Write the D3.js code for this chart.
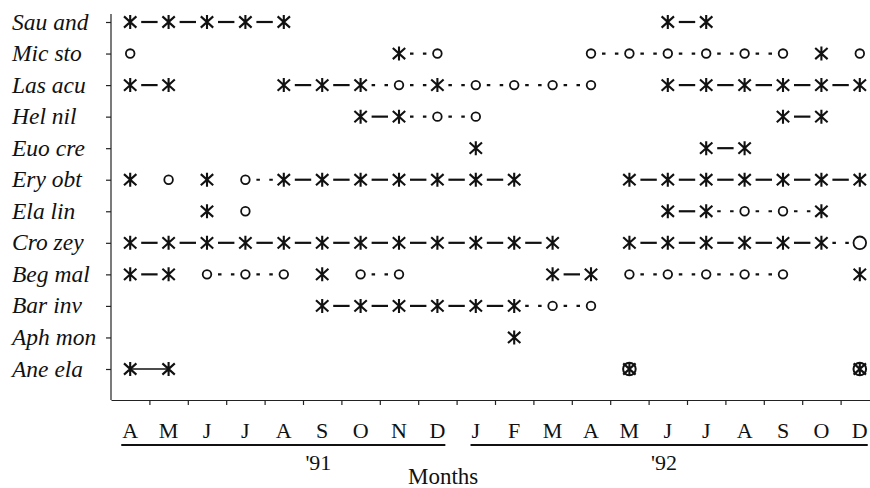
<!DOCTYPE html>
<html>
<head>
<meta charset="utf-8">
<script src="https://cdn.jsdelivr.net/npm/d3@7"></script>
<style>
body { margin: 0; background: #fff; }
text { font-family: "Liberation Serif", "Times New Roman", serif; fill: #111; }
</style>
</head>
<body>
<div class="chartfield"></div>
<script>
var width = 870;
var height = 488;

// month ticks (Nov '92 was not sampled)
var monthLabels = ["A","M","J","J","A","S","O","N","D","J","F","M","A","M","J","J","A","S","O","D"];
var yearLabels = ["'91", "'92"];
var yearSpans = [[0, 8], [9, 19]];

var species = ["Sau and","Mic sto","Las acu","Hel nil","Euo cre","Ery obt","Ela lin","Cro zey","Beg mal","Bar inv","Aph mon","Ane ela"];

// runs of observations per species: [month index, mark]
// x = flowering (asterisk), o = fruiting (circle), O = big circle, b = both
var runs = {
	"Sau and": [[[0,"x"],[1,"x"],[2,"x"],[3,"x"],[4,"x"]], [[14,"x"],[15,"x"]]],
	"Mic sto": [[[0,"o"]], [[7,"x"],[8,"o"]], [[12,"o"],[13,"o"],[14,"o"],[15,"o"],[16,"o"],[17,"o"]], [[18,"x"]], [[19,"o"]]],
	"Las acu": [[[0,"x"],[1,"x"]], [[4,"x"],[5,"x"],[6,"x"],[7,"o"],[8,"x"],[9,"o"],[10,"o"],[11,"o"],[12,"o"]], [[14,"x"],[15,"x"],[16,"x"],[17,"x"],[18,"x"],[19,"x"]]],
	"Hel nil": [[[6,"x"],[7,"x"],[8,"o"],[9,"o"]], [[17,"x"],[18,"x"]]],
	"Euo cre": [[[9,"x"]], [[15,"x"],[16,"x"]]],
	"Ery obt": [[[0,"x"]], [[1,"o"]], [[2,"x"]], [[3,"o"],[4,"x"],[5,"x"],[6,"x"],[7,"x"],[8,"x"],[9,"x"],[10,"x"]], [[13,"x"],[14,"x"],[15,"x"],[16,"x"],[17,"x"],[18,"x"],[19,"x"]]],
	"Ela lin": [[[2,"x"]], [[3,"o"]], [[14,"x"],[15,"x"],[16,"o"],[17,"o"],[18,"x"]]],
	"Cro zey": [[[0,"x"],[1,"x"],[2,"x"],[3,"x"],[4,"x"],[5,"x"],[6,"x"],[7,"x"],[8,"x"],[9,"x"],[10,"x"],[11,"x"]], [[13,"x"],[14,"x"],[15,"x"],[16,"x"],[17,"x"],[18,"x"],[19,"O"]]],
	"Beg mal": [[[0,"x"],[1,"x"]], [[2,"o"],[3,"o"],[4,"o"]], [[5,"x"]], [[6,"o"],[7,"o"]], [[11,"x"],[12,"x"]], [[13,"o"],[14,"o"],[15,"o"],[16,"o"],[17,"o"]], [[19,"x"]]],
	"Bar inv": [[[5,"x"],[6,"x"],[7,"x"],[8,"x"],[9,"x"],[10,"x"],[11,"o"],[12,"o"]]],
	"Aph mon": [[[10,"x"]]],
	"Ane ela": [[[0,"x"],[1,"x"]], [[13,"b"]], [[19,"b"]]]
};
var joinedRows = ["Ane ela"];

var svg, x, y;
var starPath = "M0,-7V7M-6.2,-5.6L6.2,5.6M-6.2,5.6L6.2,-5.6";

function svginit() {
	svg = d3.select(".chartfield")
	.append("svg")
	.attr("width", width)
	.attr("height", height);

	x = d3.scaleLinear().domain([-0.5, 19.5]).range([111, 879]);
	y = d3.scalePoint().domain(species).range([22, 369]);
}

function drawAxes() {
	// y axis, ticks only
	svg.append("g")
	.attr("transform", "translate(" + x(-0.5) + ",0)")
	.call(d3.axisLeft(y).tickSize(5).tickFormat(""))
	.call(function(g) {
		g.select(".domain").remove();
	})
	.selectAll("line").attr("stroke", "#222").attr("stroke-width", 1.2);

	svg.append("line")
	.attr("x1", x(-0.5)).attr("x2", x(-0.5))
	.attr("y1", 14).attr("y2", 400)
	.attr("stroke", "#222").attr("stroke-width", 1.2);

	svg.selectAll("text.sp")
	.data(species)
	.enter().append("text")
	.attr("class", "sp")
	.attr("x", 12)
	.attr("y", function(d) { return y(d); })
	.attr("dy", "0.32em")
	.style("font-size", "23.5px")
	.style("font-style", "italic")
	.text(function(d) { return d; });

	// x axis, ticks between months
	var xa = svg.append("g")
	.attr("transform", "translate(0,400)")
	.call(d3.axisBottom(x).tickValues(d3.range(0.5, 19, 1)).tickSize(5).tickSizeOuter(0).tickFormat(""));
	xa.select(".domain").attr("stroke", "#222").attr("stroke-width", 1.2);
	xa.selectAll("line").attr("stroke", "#222").attr("stroke-width", 1.2);

	var mo = svg.selectAll("text.mo")
	.data(monthLabels)
	.enter().append("text")
	.attr("class", "mo")
	.attr("x", function(d, i) { return x(i); })
	.attr("y", 438)
	.attr("text-anchor", "middle")
	.style("font-size", "22px")
	.text(function(d) { return d; });

	// underline each year from its first to its last month label
	var nodes = mo.nodes();
	svg.selectAll("line.yr")
	.data(yearSpans)
	.enter().append("line")
	.attr("class", "yr")
	.attr("x1", function(d) { var b = nodes[d[0]].getBBox(); return b.x - 1; })
	.attr("x2", function(d) { var b = nodes[d[1]].getBBox(); return b.x + b.width; })
	.attr("y1", 445).attr("y2", 445)
	.attr("stroke", "#111").attr("stroke-width", 2);

	svg.selectAll("text.yr")
	.data(yearLabels)
	.enter().append("text")
	.attr("class", "yr")
	.attr("x", function(d, i) { return x(yearSpans[i][0] + 4.9); })
	.attr("y", 470)
	.attr("text-anchor", "middle")
	.style("font-size", "22px")
	.text(function(d) { return d; });

	svg.append("text")
	.attr("x", x(8.15))
	.attr("y", 484)
	.attr("text-anchor", "middle")
	.style("font-size", "23px")
	.text("Months");
}

function drawRuns() {
	var segs = [];
	var pts = [];
	species.forEach(function(sp) {
		runs[sp].forEach(function(run) {
			for (var i = 0; i < run.length; i++) {
				pts.push({sp: sp, m: run[i][0], mark: run[i][1]});
				if (i > 0) {
					segs.push({sp: sp, a: run[i-1], b: run[i],
						joined: joinedRows.indexOf(sp) >= 0,
						solid: run[i-1][1] == "x" && run[i][1] == "x"});
				}
			}
		});
	});

	svg.selectAll("line.seg")
	.data(segs)
	.enter().append("line")
	.attr("class", "seg")
	.attr("x1", function(d) { return x(d.a[0]) + (d.joined ? 0 : 11); })
	.attr("x2", function(d) { return x(d.b[0]) - (d.joined ? 0 : 11); })
	.attr("y1", function(d) { return y(d.sp); })
	.attr("y2", function(d) { return y(d.sp); })
	.attr("stroke", "#111")
	.attr("stroke-width", function(d) { return d.joined ? 1.4 : 2.2; })
	.attr("stroke-dasharray", function(d) {
		if (d.solid) return null;
		var len = x(d.b[0]) - x(d.a[0]) - 22;
		return "3.5," + (len - 7);
	});

	var g = svg.selectAll("g.pt")
	.data(pts)
	.enter().append("g")
	.attr("class", "pt")
	.attr("transform", function(d) { return "translate(" + x(d.m) + "," + y(d.sp) + ")"; });

	g.filter(function(d) { return d.mark != "x"; })
	.append("circle")
	.attr("r", function(d) { return d.mark == "o" ? 4.3 : 6.3; })
	.attr("fill", "#fff")
	.attr("stroke", "#111")
	.attr("stroke-width", function(d) { return d.mark == "b" ? 2 : 1.8; });

	g.filter(function(d) { return d.mark == "x" || d.mark == "b"; })
	.append("path")
	.attr("d", starPath)
	.attr("fill", "none")
	.attr("stroke", "#111")
	.attr("stroke-width", 2.1);
}

svginit();
drawAxes();
drawRuns();
</script>
</body>
</html>
